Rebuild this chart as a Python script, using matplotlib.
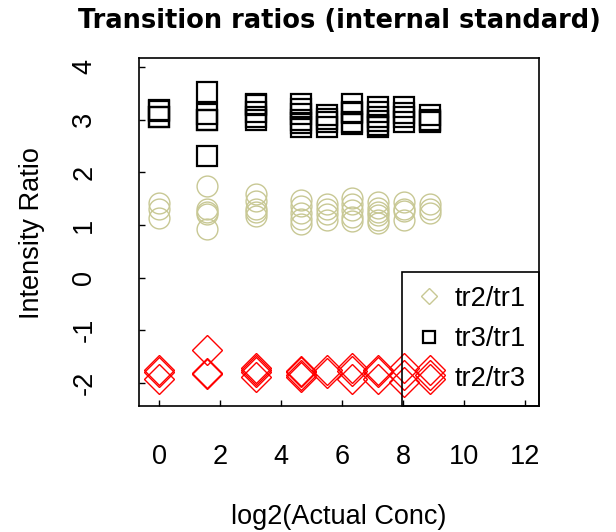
import matplotlib
matplotlib.use("Agg")
import matplotlib.pyplot as plt
from matplotlib.lines import Line2D
import numpy as np

plt.rcParams["font.family"] = ["Liberation Sans", "DejaVu Sans"]
plt.rcParams["axes.unicode_minus"] = False

# log2 of the actual concentration levels
log2_conc = [0.0, 1.58, 3.17, 4.64, 5.49, 6.34, 7.19, 8.04, 8.88]

# replicate ratios per concentration level
tr2_tr1 = [
    [1.42, 1.30, 1.14],
    [1.74, 1.30, 1.24, 1.20, 0.92],
    [1.58, 1.45, 1.30, 1.25, 1.17],
    [1.47, 1.35, 1.22, 1.12, 1.01],
    [1.39, 1.30, 1.20, 1.09],
    [1.52, 1.40, 1.28, 1.15, 1.07],
    [1.43, 1.33, 1.25, 1.18, 1.10, 1.04],
    [1.43, 1.30, 1.27, 1.10],
    [1.39, 1.30, 1.23],
]
tr3_tr1 = [
    [3.19, 3.17, 3.05, 3.04],
    [3.52, 3.10, 3.00, 2.99, 2.31],
    [3.29, 3.27, 3.15, 3.05, 3.00],
    [3.29, 3.20, 3.10, 3.00, 2.93, 2.85],
    [3.09, 3.02, 2.95, 2.86],
    [3.29, 3.14, 3.12, 2.95, 2.91],
    [3.23, 3.15, 3.05, 2.97, 2.90, 2.86],
    [3.23, 3.12, 3.05, 2.96],
    [3.09, 3.00, 2.97, 2.96],
]
tr2_tr3 = [
    [-1.75, -1.80, -1.92],
    [-1.37, -1.81, -1.83],
    [-1.72, -1.75, -1.80, -1.88],
    [-1.78, -1.80, -1.85, -1.88],
    [-1.75, -1.81],
    [-1.72, -1.78, -1.92],
    [-1.75, -1.80, -1.92],
    [-1.72, -1.85, -1.98],
    [-1.75, -1.85, -1.92],
]

legend_labels = ["tr2/tr1", "tr3/tr1", "tr2/tr3"]
khaki = "#c8c894"


def flatten(groups):
    xs = np.concatenate([[x] * len(g) for x, g in zip(log2_conc, groups)])
    ys = np.concatenate(groups)
    return xs, ys


fig = plt.figure(figsize=(6.16, 5.32), dpi=100)
ax = fig.add_axes([139 / 616, 1 - 406 / 532, 400 / 616, 348 / 532])

x1, y1 = flatten(tr2_tr1)
ax.plot(x1, y1, ls="none", marker="o", ms=15, mfc="none", mec=khaki, mew=1.0)
x2, y2 = flatten(tr3_tr1)
ax.plot(x2, y2, ls="none", marker="s", ms=14.5, mfc="none", mec="black", mew=1.6)
x3, y3 = flatten(tr2_tr3)
ax.plot(x3, y3, ls="none", marker="D", ms=15, mfc="none", mec="red", mew=1.0)

ax.set_xlim(-0.66, 12.46)
ax.set_ylim(-2.44, 4.17)
ax.set_xticks(np.arange(0, 13, 2))
ax.set_yticks(np.arange(-2, 5, 1))
ax.tick_params(direction="in", length=4, width=1, labelsize=19.5)
ax.tick_params(axis="x", pad=27)
ax.tick_params(axis="y", pad=30)
for lab in ax.get_yticklabels():
    lab.set_rotation(90)
    lab.set_va("center")
for s in ax.spines.values():
    s.set_linewidth(1.2)

handles = [
    Line2D([], [], ls="none", marker="D", ms=8, mfc="none", mec=khaki, mew=1.0),
    Line2D([], [], ls="none", marker="s", ms=8, mfc="none", mec="black", mew=1.6),
    Line2D([], [], ls="none"),
]
leg = ax.legend(handles, legend_labels, loc="lower right", bbox_to_anchor=(1, 0),
                borderaxespad=0, fontsize=19.5, frameon=True, fancybox=False,
                framealpha=1, borderpad=0.5, labelspacing=0.53,
                handlelength=0.98, handletextpad=0.45)
leg.get_frame().set_edgecolor("black")
leg.get_frame().set_facecolor("none")
leg.get_frame().set_linewidth(1.2)

fig.text(339 / 616, 1 - 21 / 532, "Transition ratios (internal standard)",
         ha="center", va="center", fontsize=18.5, fontweight="bold",
         family="DejaVu Sans")
fig.text(339 / 616, 1 - 517 / 532, "log2(Actual Conc)", ha="center", va="center",
         fontsize=19.5)
fig.text(32 / 616, 1 - 233 / 532, "Intensity Ratio", ha="center", va="center",
         rotation=90, fontsize=19.5)

fig.savefig("out.png", dpi=100)
